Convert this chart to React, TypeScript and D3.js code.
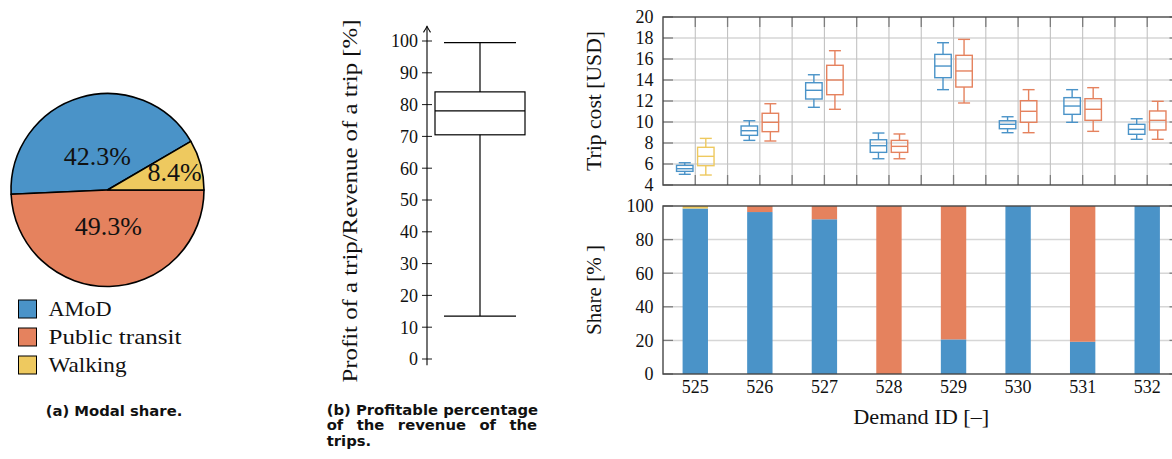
import React from 'react';
import * as d3 from 'd3';

// ---------- (a) Modal share ----------
const modes = ['AMoD', 'Public transit', 'Walking'];
const modalShare = [42.3, 49.3, 8.4];
const modeColors = ['#4a93c8', '#e5825e', '#eec95f'];

// ---------- (b) Profitable percentage ----------
const profitTicks = [0, 10, 20, 30, 40, 50, 60, 70, 80, 90, 100];
// [lower whisker, q1, median, q3, upper whisker]
const profitBox = [13.5, 70.5, 78, 84, 99.5];

// ---------- (c) Trip cost and share per demand ----------
const demandIds = ['525', '526', '527', '528', '529', '530', '531', '532'];
const costTicks = [4, 6, 8, 10, 12, 14, 16, 18, 20];
const shareTicks = [0, 20, 40, 60, 80, 100];
// [lower whisker, q1, median, q3, upper whisker]
const amodCost = [
  [5.02, 5.3, 5.55, 5.87, 6.12],
  [8.25, 8.73, 9.17, 9.62, 10.12],
  [11.4, 12.19, 13.02, 13.74, 14.5],
  [6.5, 7.11, 7.74, 8.31, 8.95],
  [13.08, 14.22, 15.33, 16.44, 17.55],
  [8.98, 9.36, 9.78, 10.12, 10.5],
  [9.97, 10.73, 11.52, 12.32, 13.08],
  [8.35, 8.83, 9.3, 9.78, 10.31],
];
const altCost = [
  [4.95, 5.84, 6.73, 7.59, 8.44],
  [8.19, 9.08, 9.97, 10.83, 11.74],
  [11.21, 12.6, 14.0, 15.4, 16.79],
  [6.5, 7.11, 7.68, 8.25, 8.86],
  [11.81, 13.33, 14.86, 16.35, 17.87],
  [8.98, 9.97, 11.02, 12.03, 13.08],
  [9.11, 10.16, 11.21, 12.22, 13.27],
  [8.35, 9.24, 10.16, 11.05, 11.97],
];
const altMode = ['Walking', 'Public transit', 'Public transit', 'Public transit', 'Public transit', 'Public transit', 'Public transit', 'Public transit'];
const amodShare = [98.5, 96.4, 92.1, 0, 20.6, 100, 19.2, 100];
const transitShare = [0, 3.6, 7.9, 100, 79.4, 0, 80.8, 0];
const walkingShare = [1.5, 0, 0, 0, 0, 0, 0, 0];

const serif = '"Liberation Serif", "Times New Roman", serif';
const sansBold = '"DejaVu Sans", sans-serif';
const colorOf = (m: string) => modeColors[modes.indexOf(m)];

function BoxGlyph({ cx, vals, y, w, cap, color, sw }: any) {
  const [lo, q1, med, q3, hi] = vals.map((v: number) => y(v));
  return (
    <g stroke={color} fill="none" strokeWidth={sw}>
      <line x1={cx} x2={cx} y1={hi} y2={q3} />
      <line x1={cx} x2={cx} y1={q1} y2={lo} />
      <line x1={cx - cap / 2} x2={cx + cap / 2} y1={hi} y2={hi} />
      <line x1={cx - cap / 2} x2={cx + cap / 2} y1={lo} y2={lo} />
      <rect x={cx - w / 2} y={q3} width={w} height={q1 - q3} />
      <line x1={cx - w / 2} x2={cx + w / 2} y1={med} y2={med} />
    </g>
  );
}

export default function App() {
  const W = 1172, H = 459;

  // ----- pie -----
  const pieCx = 107.5, pieCy = 190, pieR = 96.5;
  const total = d3.sum(modalShare);
  const pieStart = Math.PI / 2 - (2 * Math.PI * modalShare[2]) / total;
  const pieGen = d3.pie<number>().sort(null).startAngle(pieStart).endAngle(pieStart - 2 * Math.PI);
  const arcs = pieGen(modalShare);
  const arcGen = d3.arc<d3.PieArcDatum<number>>().innerRadius(0).outerRadius(pieR);

  // ----- box (b) -----
  const pY = d3.scaleLinear().domain([0, 100]).range([359, 41]);
  const pAxisX = 427;
  const pBoxX = 480;

  // ----- right charts -----
  const xC = d3.scalePoint<string>().domain(demandIds).range([663, 1179.5]).padding(0.5);
  const step = xC.step();
  const [xL, xR] = xC.range();
  const yCost = d3.scaleLinear().domain([4, 20]).range([185, 17]);
  const yShare = d3.scaleLinear().domain([0, 100]).range([374, 206]);
  const halfGrid = d3.range(1, 2 * demandIds.length).map((i) => xL + (i * step) / 2);

  const rows = demandIds.map((id, i) => ({ id, amod: amodShare[i], transit: transitShare[i], walking: walkingShare[i] }));
  const stacked = d3.stack<any>().keys(['amod', 'transit', 'walking'])(rows);
  const barW = step * 0.393;
  const boxOff = step * 0.163;
  const boxW = step * 0.255;
  const capW = step * 0.186;

  const frame = '#474747';
  const tickC = '#7d7d7d';
  const gridH = '#d6d6d6';
  const gridV = '#c2c2c2';

  return (
    <svg width={W} height={H} style={{ position: 'absolute', left: 0, top: 0, background: '#fff' }}>
      {/* ===== (a) pie ===== */}
      <g transform={`translate(${pieCx},${pieCy})`}>
        {arcs.map((a, i) => (
          <path key={i} d={arcGen(a) || ''} fill={modeColors[i]} stroke="#000" strokeWidth={1.6} strokeLinejoin="round" />
        ))}
        {arcs.map((a, i) => {
          const mid = (a.startAngle + a.endAngle) / 2;
          const frac = a.value / total;
          const lr = (frac < 0.15 ? 0.72 : 0.37) * pieR;
          return (
            <text key={i} x={lr * Math.sin(mid)} y={-lr * Math.cos(mid)} dy="0.35em" textAnchor="middle"
              fontFamily={serif} fontSize={26} fill="#111">
              {a.value.toFixed(1)}%
            </text>
          );
        })}
      </g>
      {modes.map((m, i) => (
        <g key={m} transform={`translate(18.5,${300 + i * 28})`}>
          <rect width={18} height={18} fill={modeColors[i]} stroke="#000" strokeWidth={1} />
          <text x={30} y={16} fontFamily={serif} fontSize={21} fill="#111"
            textLength={[63, 133, 78][i]} lengthAdjust="spacingAndGlyphs">{m}</text>
        </g>
      ))}
      <text x={114} y={416} textAnchor="middle" fontFamily={sansBold} fontWeight="bold" fontSize={14.8} fill="#111">
        (a) Modal share.
      </text>

      {/* ===== (b) profit box ===== */}
      <text transform={`translate(356.5,${(pY(0) + pY(100)) / 2 + 1}) rotate(-90)`} textAnchor="middle"
        fontFamily={serif} fontSize={21.5} fill="#111" textLength={363} lengthAdjust="spacingAndGlyphs">
        Profit of a trip/Revenue of a trip [%]
      </text>
      <line x1={pAxisX} x2={pAxisX} y1={pY(-2)} y2={pY(104.6)} stroke="#000" strokeWidth={1.1} />
      <path d={`M${pAxisX - 3.5},${pY(104.6) + 6} Q${pAxisX - 1},${pY(104.6) + 2} ${pAxisX},${pY(104.6)} Q${pAxisX + 1},${pY(104.6) + 2} ${pAxisX + 3.5},${pY(104.6) + 6}`}
        fill="none" stroke="#000" strokeWidth={1.1} />
      {profitTicks.map((t) => (
        <g key={t}>
          <line x1={pAxisX - 5} x2={pAxisX + 5} y1={pY(t)} y2={pY(t)} stroke="#000" strokeWidth={0.9} />
          <text x={pAxisX - 9} y={pY(t)} dy="0.35em" textAnchor="end" fontFamily={serif} fontSize={18} fill="#111">{t}</text>
        </g>
      ))}
      <BoxGlyph cx={pBoxX} vals={profitBox} y={pY} w={90} cap={72} color="#000" sw={1.2} />
      <g fontFamily={sansBold} fontWeight="bold" fontSize={14.8} fill="#111">
        <text x={326.7} y={414.5}>(b) Profitable percentage</text>
        <text x={326.7} y={430} style={{ wordSpacing: '8.3px' }}>of the revenue of the</text>
        <text x={326.7} y={445.5}>trips.</text>
      </g>

      {/* ===== (c) top: trip cost boxes ===== */}
      {costTicks.slice(1, -1).map((t) => (
        <line key={'gh' + t} x1={xL} x2={xR} y1={yCost(t)} y2={yCost(t)} stroke={gridH} strokeWidth={1.6} />
      ))}
      {halfGrid.map((x, i) => (
        <line key={'gv' + i} x1={x} x2={x} y1={yCost(20)} y2={yCost(4)} stroke={gridV} strokeWidth={1.1} />
      ))}
      {costTicks.map((t) => (
        <g key={'ct' + t}>
          <line x1={xL} x2={xL + 10} y1={yCost(t)} y2={yCost(t)} stroke={tickC} strokeWidth={1.3} />
          <line x1={xR - 10} x2={xR} y1={yCost(t)} y2={yCost(t)} stroke={tickC} strokeWidth={1.3} />
          <text x={xL - 9.5} y={yCost(t)} dy="0.35em" textAnchor="end" fontFamily={serif} fontSize={18} fill="#111">{t}</text>
        </g>
      ))}
      {halfGrid.map((x, i) => (
        <g key={'vt' + i}>
          <line x1={x} x2={x} y1={yCost(20)} y2={yCost(20) + 10} stroke={tickC} strokeWidth={1.3} />
          <line x1={x} x2={x} y1={yCost(4) - 10} y2={yCost(4)} stroke={tickC} strokeWidth={1.3} />
        </g>
      ))}
      {demandIds.map((id, i) => (
        <g key={'bx' + id}>
          <BoxGlyph cx={(xC(id) as number) - boxOff} vals={amodCost[i]} y={yCost} w={boxW} cap={capW} color={modeColors[0]} sw={1.4} />
          <BoxGlyph cx={(xC(id) as number) + boxOff} vals={altCost[i]} y={yCost} w={boxW} cap={capW} color={colorOf(altMode[i])} sw={1.4} />
        </g>
      ))}
      <rect x={xL} y={yCost(20)} width={xR - xL} height={yCost(4) - yCost(20)} fill="none" stroke={frame} strokeWidth={1.4} />
      <text transform={`translate(600.5,${(yCost(4) + yCost(20)) / 2}) rotate(-90)`} textAnchor="middle"
        fontFamily={serif} fontSize={20.5} fill="#111" textLength={140} lengthAdjust="spacingAndGlyphs">
        Trip cost [USD]
      </text>

      {/* ===== (c) bottom: share bars ===== */}
      {shareTicks.slice(1, -1).map((t) => (
        <line key={'sh' + t} x1={xL} x2={xR} y1={yShare(t)} y2={yShare(t)} stroke={gridH} strokeWidth={1.5} />
      ))}
      {shareTicks.map((t) => (
        <g key={'st' + t}>
          <line x1={xL} x2={xL + 10} y1={yShare(t)} y2={yShare(t)} stroke={tickC} strokeWidth={1.3} />
          <line x1={xR - 10} x2={xR} y1={yShare(t)} y2={yShare(t)} stroke={tickC} strokeWidth={1.3} />
          <text x={xL - 9.5} y={yShare(t)} dy="0.35em" textAnchor="end" fontFamily={serif} fontSize={18} fill="#111">{t}</text>
        </g>
      ))}
      {stacked.map((layer, li) => (
        <g key={'layer' + li} fill={modeColors[li]}>
          {layer.map((d: any, i: number) => {
            const h = yShare(d[0]) - yShare(d[1]);
            if (h <= 0) return null;
            return (
              <rect key={i} x={(xC(demandIds[i]) as number) - barW / 2} y={yShare(d[1])} width={barW} height={h} />
            );
          })}
        </g>
      ))}
      <rect x={xL} y={yShare(100)} width={xR - xL} height={yShare(0) - yShare(100)} fill="none" stroke={frame} strokeWidth={1.4} />
      {demandIds.map((id) => (
        <text key={'xl' + id} x={xC(id) as number} y={yShare(0) + 19} textAnchor="middle" fontFamily={serif} fontSize={18} fill="#111">{id}</text>
      ))}
      <text transform={`translate(600.5,${(yShare(0) + yShare(100)) / 2}) rotate(-90)`} textAnchor="middle"
        fontFamily={serif} fontSize={20.5} fill="#111" textLength={90} lengthAdjust="spacingAndGlyphs">
        Share [% ]
      </text>
      <text x={(xL + xR) / 2} y={424} textAnchor="middle" fontFamily={serif} fontSize={20.5} fill="#111"
        textLength={136} lengthAdjust="spacingAndGlyphs">
        Demand ID [–]
      </text>
    </svg>
  );
}
